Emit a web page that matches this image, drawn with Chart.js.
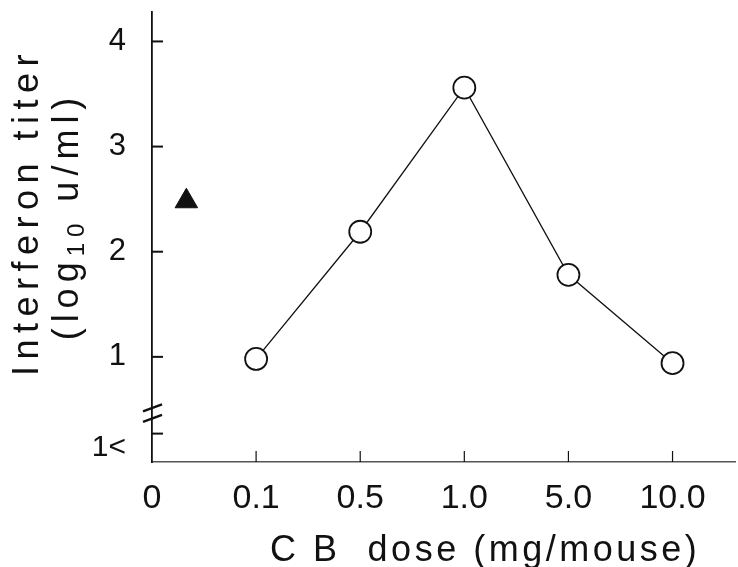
<!DOCTYPE html>
<html lang="en">
  <head>
    <meta charset="UTF-8" />
    <title>Interferon titer vs CB dose</title>
    <style>
      html, body { margin: 0; padding: 0; background: #fff; }
      .chartBox { width: 738px; height: 567px; }
    </style>
  </head>
  <body>
    <div class="chartBox">
      <canvas id="myChart"></canvas>
    </div>
    <script src="https://cdn.jsdelivr.net/npm/chart.js"></script>
    <script>
      // dose categories on the x axis (index = position)
      const doseLabels = ["0", "0.1", "0.5", "1.0", "5.0", "10.0"];
      const doseIndex = [1, 2, 3, 4, 5];
      // interferon titer, log10 u/ml
      const titer = [0.98, 2.19, 3.56, 1.78, 0.94];
      // single filled triangle near the axis
      const triX = [0.33];
      const triY = [2.48];
      // y tick labels and where the tick marks sit
      const yLabelValues = [0.14, 1, 2, 3, 4];
      const yLabelText = ["1<", "1", "2", "3", "4"];
      const yMarkValues = [0.27, 1, 2, 3, 4];
      const yBreakValues = [0.51, 0.41];

      const FONT = "'Liberation Sans', Arial, sans-serif";
      const INK = "#111";

      const circleData = doseIndex.map((d, i) => ({ x: d, y: titer[i] }));
      const triData = triX.map((d, i) => ({ x: d, y: triY[i] }));

      const axisMarks = {
        id: "axisMarks",
        afterDraw(chart) {
          const ctx = chart.ctx;
          const x = chart.scales.x;
          const y = chart.scales.y;
          const x0 = x.getPixelForValue(0);
          const yb = y.getPixelForValue(0);
          ctx.save();
          ctx.strokeStyle = INK;
          // inward y tick marks
          ctx.lineWidth = 2;
          yMarkValues.forEach((v) => {
            const py = y.getPixelForValue(v);
            ctx.beginPath();
            ctx.moveTo(x0, py);
            ctx.lineTo(x0 + 11, py);
            ctx.stroke();
          });
          // axis break
          ctx.lineWidth = 2.5;
          yBreakValues.forEach((v) => {
            const py = y.getPixelForValue(v);
            ctx.beginPath();
            ctx.moveTo(x0 - 9, py + 3);
            ctx.lineTo(x0 + 10, py - 4);
            ctx.stroke();
          });
          // upward x tick marks
          ctx.lineWidth = 1.2;
          for (let i = 1; i < doseLabels.length; i++) {
            const px = x.getPixelForValue(i);
            ctx.beginPath();
            ctx.moveTo(px, yb);
            ctx.lineTo(px, yb - 11);
            ctx.stroke();
          }
          // axis titles
          ctx.fillStyle = INK;
          ctx.textBaseline = "alphabetic";
          ctx.textAlign = "center";
          ctx.letterSpacing = "3.5px";
          ctx.font = "36px " + FONT;
          ctx.fillText("C B  dose (mg/mouse)", x.getPixelForValue(3.2), 561);

          ctx.translate(38, 212);
          ctx.rotate(-Math.PI / 2);
          ctx.letterSpacing = "6.5px";
          ctx.font = "36px " + FONT;
          ctx.fillText("Interferon titer", 0, 0);
          ctx.setTransform(1, 0, 0, 1, 0, 0);

          // second line with subscript
          ctx.translate(78, 216);
          ctx.rotate(-Math.PI / 2);
          ctx.textAlign = "left";
          ctx.letterSpacing = "6px";
          const parts = [
            ["(log", 36, 0],
            ["10", 24, 6],
            [" u/ml)", 36, 0],
          ];
          let total = 0;
          parts.forEach((p) => {
            ctx.font = p[1] + "px " + FONT;
            total += ctx.measureText(p[0]).width;
          });
          let cx = -total / 2;
          parts.forEach((p) => {
            ctx.font = p[1] + "px " + FONT;
            ctx.fillText(p[0], cx, p[2]);
            cx += ctx.measureText(p[0]).width;
          });
          ctx.restore();
        },
      };

      const ctx = document.getElementById("myChart").getContext("2d");
      const myChart = new Chart(ctx, {
        type: "scatter",
        data: {
          datasets: [
            {
              label: "CB",
              data: circleData,
              showLine: true,
              borderColor: INK,
              borderWidth: 1.3,
              pointRadius: 11,
              pointBorderWidth: 1.8,
              pointBackgroundColor: "#fff",
              pointBorderColor: INK,
              tension: 0,
            },
            {
              label: "control",
              data: triData,
              showLine: false,
              pointStyle: "triangle",
              pointRadius: 13,
              pointBackgroundColor: INK,
              pointBorderColor: INK,
              pointBorderWidth: 1,
            },
          ],
        },
        options: {
          responsive: true,
          maintainAspectRatio: false,
          animation: false,
          layout: { autoPadding: false, padding: { left: 0, right: 3, top: 12, bottom: 0 } },
          plugins: {
            legend: { display: false },
            tooltip: { enabled: false },
          },
          scales: {
            x: {
              type: "linear",
              min: 0,
              max: 5.6,
              afterBuildTicks: (scale) => {
                scale.ticks = doseLabels.map((l, i) => ({ value: i }));
              },
              afterFit: (scale) => {
                scale.height = 105;
                scale.paddingLeft = 0;
                scale.paddingRight = 0;
              },
              ticks: {
                padding: 16,
                color: INK,
                font: { family: FONT, size: 34 },
                maxRotation: 0,
                autoSkip: false,
                callback: (v) => doseLabels[v],
              },
              grid: { display: false, drawTicks: false },
              border: { display: true, color: "#555", width: 1.5, dash: [1, 3] },
            },
            y: {
              min: 0,
              max: 4.28,
              afterBuildTicks: (scale) => {
                scale.ticks = yLabelValues.map((v) => ({ value: v }));
              },
              afterFit: (scale) => {
                scale.width = 152;
                scale.paddingTop = 0;
                scale.paddingBottom = 0;
              },
              ticks: {
                padding: 26,
                color: INK,
                autoSkip: false,
                font: (c) => ({ family: FONT, size: c.tick && c.tick.value < 1 ? 30 : 31 }),
                callback: (v) => yLabelText[yLabelValues.indexOf(v)],
              },
              grid: { display: false, drawTicks: false },
              border: { display: true, color: INK, width: 1.8 },
            },
          },
        },
        plugins: [axisMarks],
      });
    </script>
  </body>
</html>
